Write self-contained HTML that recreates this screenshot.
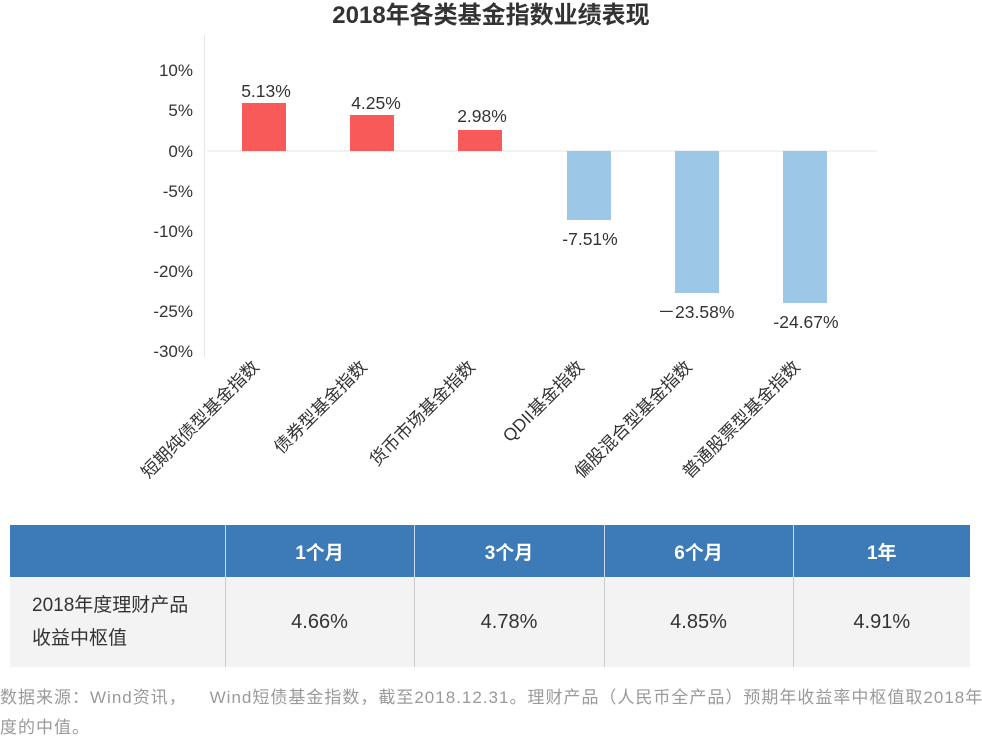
<!DOCTYPE html>
<html><head><meta charset="utf-8"><style>
body{margin:0;width:982px;height:738px;background:#fff;overflow:hidden;position:relative;font-family:"Liberation Sans","Noto Sans CJK SC",sans-serif;}
svg{position:absolute;left:0;top:0}
table{position:absolute;left:10px;top:525px;width:960px;border-collapse:collapse;table-layout:fixed}
td{text-align:center;font-size:20px;color:#333}
.h td{background:#3c7ab8;color:#fff;font-weight:bold;height:50px;border-left:1px solid #c9d8ea;font-size:19px}
.r td{background:#f3f3f3;height:88px;border-left:1px solid #ccc}
.h td:first-child,.r td:first-child{border-left:none}
.note{position:absolute;left:0;top:683px;width:990px;font-size:17px;line-height:30px;color:#9a9a9a;letter-spacing:1px;white-space:nowrap}
</style></head><body>
<svg width="982" height="520" font-family="Liberation Sans, Noto Sans CJK SC, sans-serif">
<text x="491" y="23" text-anchor="middle" font-size="24" font-weight="bold" fill="#333">2018年各类基金指数业绩表现</text>
<line x1="204.5" y1="35" x2="204.5" y2="357" stroke="#e6e6e6"/>
<line x1="207" y1="151" x2="877" y2="151" stroke="#e6e6e6"/>
<g font-size="17" fill="#333" text-anchor="end">
<text x="193" y="76">10%</text><text x="193" y="116">5%</text><text x="193" y="157">0%</text><text x="193" y="197">-5%</text><text x="193" y="237">-10%</text><text x="193" y="277">-20%</text><text x="193" y="317">-25%</text><text x="193" y="357">-30%</text>
</g>
<g fill="#f75a59"><rect x="242" y="103" width="44" height="48"/><rect x="350" y="115" width="44" height="36"/><rect x="458" y="130" width="44" height="21"/></g>
<g fill="#9dc7e7"><rect x="567" y="151" width="44" height="69"/><rect x="675" y="151" width="44" height="142"/><rect x="783" y="151" width="44" height="152"/></g>
<g font-size="17.5" fill="#333" text-anchor="middle">
<text x="266" y="97">5.13%</text><text x="376" y="109">4.25%</text><text x="482" y="122">2.98%</text>
<text x="590" y="245">-7.51%</text><text x="696" y="318">－23.58%</text><text x="806" y="328">-24.67%</text>
</g>
<g font-size="17.5" fill="#333" text-anchor="end">
<text transform="translate(260,368) rotate(-45)">短期纯债型基金指数</text>
<text transform="translate(368,368) rotate(-45)">债券型基金指数</text>
<text transform="translate(476,368) rotate(-45)">货币市场基金指数</text>
<text transform="translate(585,368) rotate(-45)">QDII基金指数</text>
<text transform="translate(693,368) rotate(-45)">偏股混合型基金指数</text>
<text transform="translate(801,368) rotate(-45)">普通股票型基金指数</text>
</g>
</svg>
<table>
<colgroup><col style="width:215px"><col style="width:189px"><col style="width:190px"><col style="width:189px"><col style="width:177px"></colgroup>
<tr class="h"><td></td><td>1个月</td><td>3个月</td><td>6个月</td><td>1年</td></tr>
<tr class="r"><td style="text-align:left;padding-left:22px;font-size:19px;line-height:33px">2018年度理财产品<br>收益中枢值</td><td>4.66%</td><td>4.78%</td><td>4.85%</td><td>4.91%</td></tr>
</table>
<div class="note">数据来源：Wind资讯，&nbsp;&nbsp;&nbsp; Wind短债基金指数，截至2018.12.31。理财产品（人民币全产品）预期年收益率中枢值取2018年<br>度的中值。</div>
</body></html>
